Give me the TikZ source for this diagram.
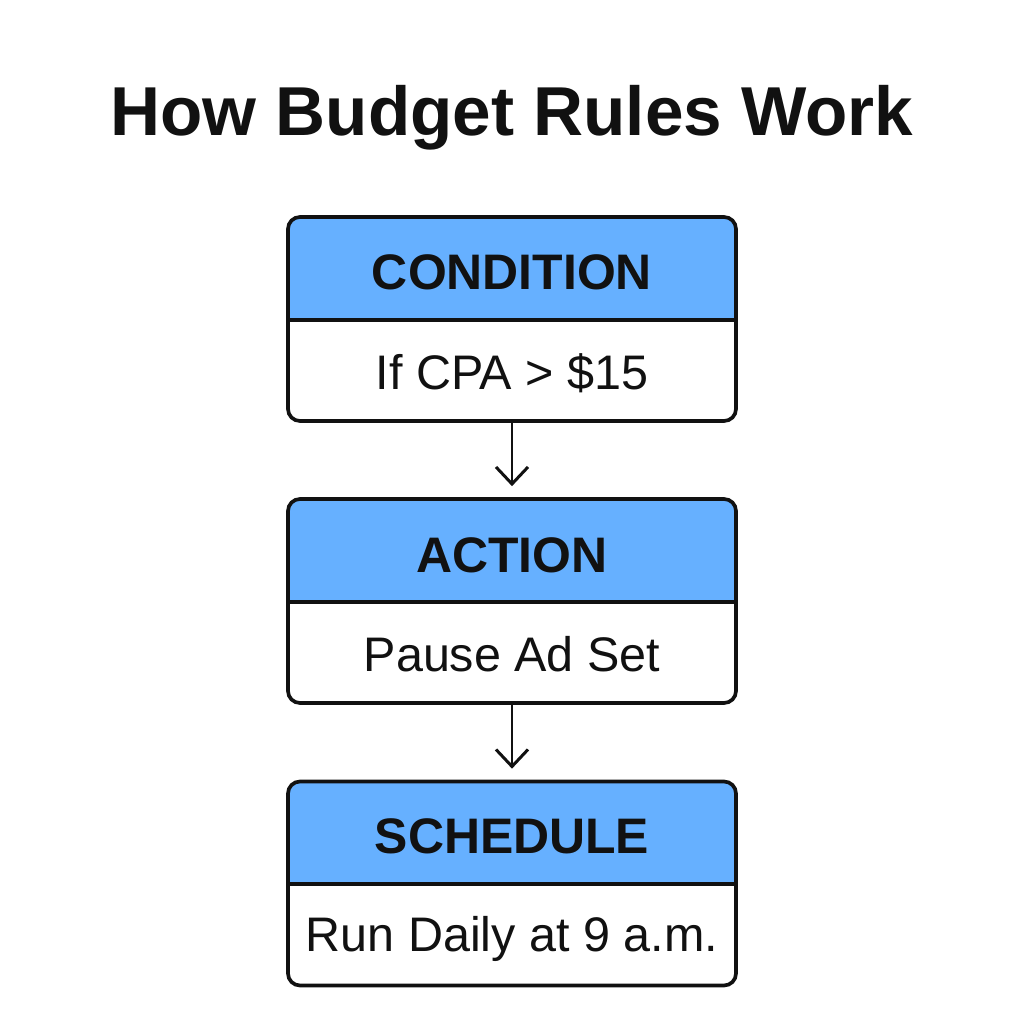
\documentclass[tikz,border=0pt]{standalone}
\usepackage{fontspec}
\setmainfont{Liberation Sans}
\usepackage{tikz}
\usetikzlibrary{arrows.meta}
\definecolor{headblue}{RGB}{102,176,255}
\definecolor{inkblack}{RGB}{17,17,17}

\begin{document}
\begin{tikzpicture}[
	stepbox/.style={draw=inkblack, line width=1.05pt, rounded corners=0.12cm, minimum width=4.48cm, minimum height=2.04cm, inner sep=0pt},
	headfill/.style={fill=headblue, rounded corners=0.12cm},
	divider/.style={draw=inkblack, line width=1.05pt},
	headtext/.style={anchor=base, text=inkblack, font=\bfseries\fontsize{14.2}{17}\selectfont},
	bodytext/.style={anchor=base, text=inkblack, font=\fontsize{13.8}{17}\selectfont},
	flow/.style={draw=inkblack, line width=0.85pt, -{Straight Barb[length=0.17cm, width=0.32cm]}, shorten >=0.11cm}]
	\useasboundingbox (0,0) rectangle (10.24,-10.24);
	\fill[white] (0,0) rectangle (10.24,-10.24);
	\node[anchor=base, text=inkblack, font=\bfseries\fontsize{19.7}{24}\selectfont] (title) at (5.12,-1.35) {How Budget Rules Work};
	% condition
	\fill[headfill] (2.88,-2.17) rectangle (7.36,-3.20);
	\fill[headblue] (2.88,-2.70) rectangle (7.36,-3.20);
	\draw[divider] (2.88,-3.20) -- (7.36,-3.20);
	\node[stepbox] (cond) at (5.12,-3.19) {};
	\node[headtext] (condhead) at (5.12,-2.89) {CONDITION};
	\node[bodytext] (condbody) at (5.12,-3.89) {If CPA > \$15};
	% action
	\fill[headfill] (2.88,-4.99) rectangle (7.36,-6.02);
	\fill[headblue] (2.88,-5.50) rectangle (7.36,-6.02);
	\draw[divider] (2.88,-6.02) -- (7.36,-6.02);
	\node[stepbox] (act) at (5.12,-6.01) {};
	\node[headtext] (acthead) at (5.12,-5.72) {ACTION};
	\node[bodytext] (actbody) at (5.12,-6.71) {Pause Ad Set};
	% schedule
	\fill[headfill] (2.88,-7.815) rectangle (7.36,-8.84);
	\fill[headblue] (2.88,-8.30) rectangle (7.36,-8.84);
	\draw[divider] (2.88,-8.84) -- (7.36,-8.84);
	\node[stepbox] (sched) at (5.12,-8.835) {};
	\node[headtext] (schedhead) at (5.12,-8.535) {SCHEDULE};
	\node[bodytext] (schedbody) at (5.12,-9.51) {Run Daily at 9 a.m.};
	% arrows
	\draw[flow] (cond.south) -- (act.north);
	\draw[flow] (act.south) -- (sched.north);
\end{tikzpicture}
\end{document}
